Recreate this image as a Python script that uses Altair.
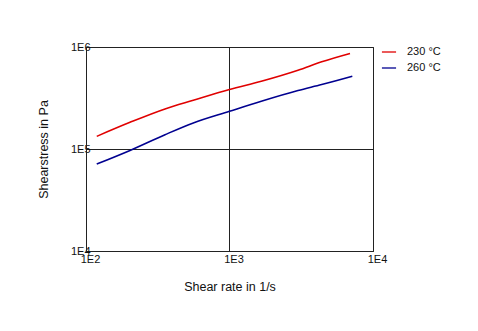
import altair as alt
import pandas as pd

rate_230 = [118.8, 202.6, 355.2, 559.4, 1000, 1666, 3002, 4390, 6914]
stress_230 = [133000, 182500, 247100, 300100, 382300, 461300, 591800, 715400, 863300]
rate_260 = [118.8, 202.6, 355.2, 559.4, 1000, 1666, 3002, 4390, 7175]
stress_260 = [71250, 96900, 138200, 180100, 234100, 293500, 373900, 428000, 516700]
series = ["230 °C", "260 °C"]
colors = ["#e00000", "#000090"]

rows = []
for i, (x, y) in enumerate(zip(rate_230, stress_230)):
    rows.append({"rate": x, "stress": y, "series": series[0], "o": i})
for i, (x, y) in enumerate(zip(rate_260, stress_260)):
    rows.append({"rate": x, "stress": y, "series": series[1], "o": i})
df = pd.DataFrame(rows)

label_expr = "'1E' + round(log(datum.value)/LN10)"

chart = alt.Chart(df).mark_line(strokeWidth=1.6, interpolate="monotone").encode(
    x=alt.X("rate:Q", scale=alt.Scale(type="log", domain=[100, 10000], nice=False),
            axis=alt.Axis(values=[100, 1000, 10000], labelExpr=label_expr, title="Shear rate in 1/s",
                          ticks=False, labelPadding=2, labelOffset=4, labelFlush=False, titlePadding=16,
                          grid=True, gridColor="#222", gridOpacity=1, domainColor="#222")),
    y=alt.Y("stress:Q", scale=alt.Scale(type="log", domain=[10000, 1000000], nice=False),
            axis=alt.Axis(values=[10000, 100000, 1000000], labelExpr=label_expr, title="Shearstress in Pa",
                          ticks=False, labelPadding=-4, labelFlush=False, titlePadding=20,
                          grid=True, gridColor="#222", gridOpacity=1, domainColor="#222")),
    color=alt.Color("series:N", scale=alt.Scale(domain=series, range=colors),
                    legend=alt.Legend(title=None, orient="none", legendX=295, legendY=-3,
                                      symbolType="stroke", symbolStrokeWidth=1.3, symbolSize=200,
                                      labelFontSize=11, labelColor="#111", rowPadding=3, labelOffset=10)),
    order="o:Q",
).properties(width=287, height=204, padding={"left": 86, "top": 47, "right": 105, "bottom": 80}).configure(
    font="Liberation Sans", autosize=alt.AutoSizeParams(type="none")
).configure_axis(
    labelFontSize=11, labelColor="#111", titleFontSize=12.5, titleFontWeight="normal", titleColor="#111",
).configure_view(stroke="#222", strokeWidth=1)

chart.save("out.html", embed_options={"renderer": "svg", "actions": False})
